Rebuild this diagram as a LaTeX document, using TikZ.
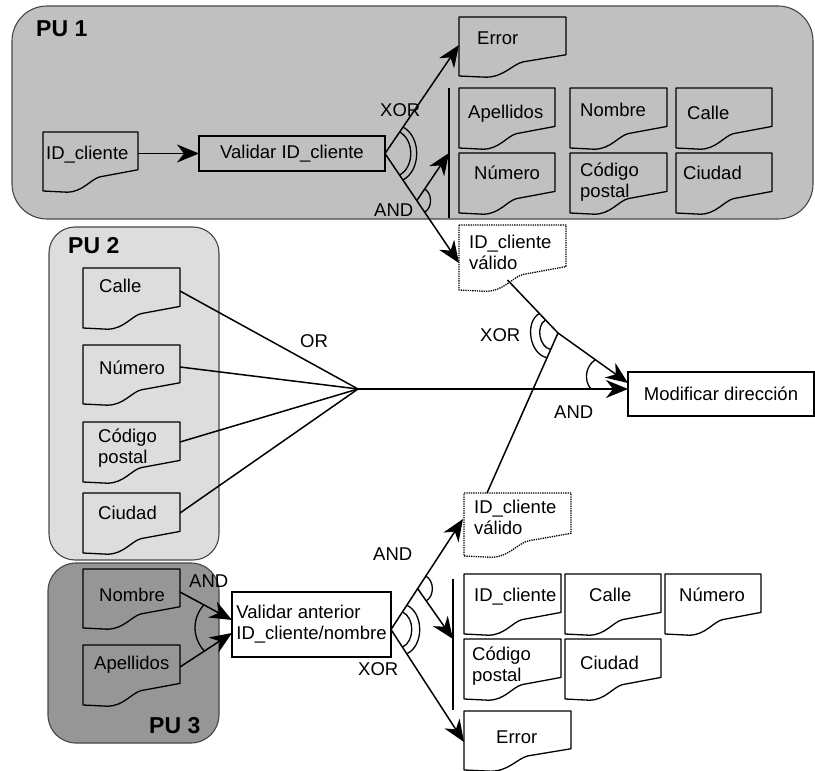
\documentclass[tikz,border=0pt]{standalone}
\usepackage{fontspec}
\setmainfont{Liberation Sans}
\usetikzlibrary{arrows.meta,calc,fit}

\definecolor{puA}{RGB}{192,192,192}
\definecolor{puB}{RGB}{221,221,221}
\definecolor{puC}{RGB}{150,150,150}
\definecolor{puborder}{RGB}{70,70,70}

\tikzset{
  pu/.style={draw=puborder, line width=1.1pt, rounded corners=#1},
  docbox/.style={inner sep=0pt, outer sep=0pt, draw=none},
  docline/.style={draw=black, line width=1.3pt, line join=round},
  procbox/.style={draw=black, line width=1.3pt, inner sep=2pt, outer sep=0pt,
                  font=\fontsize{18.5}{21}\selectfont},
  txt/.style={inner sep=0pt, anchor=base west, font=\fontsize{18.5}{21}\selectfont},
  pulabel/.style={inner sep=0pt, anchor=base west, font=\fontsize{23}{26}\selectfont\bfseries},
  link/.style={draw=black, line width=1.5pt},
  arr/.style={link, -{Stealth[length=22pt, width=18pt, inset=7pt]}},
  gate/.style={draw=black, line width=1.3pt},
}

% document symbol: an invisible frame node plus its wavy outline
\newcommand\docshape[3][]{%
  \node[docbox, fit={#3}] (#2) {};
  \draw[docline,#1] let \p1=(#2.north west), \p2=(#2.south east),
      \n1={\x2-\x1}, \n2={\y1-\y2} in
    (\p1) -- (\x2,\y1) -- (\x2,{\y2+0.36*\n2}) -- ({\x1+0.6*\n1},{\y2+0.24*\n2})
    .. controls ({\x1+0.5*\n1},{\y2+0.2*\n2}) and ({\x1+0.42*\n1},{\y2-0.02*\n2})
    .. ({\x1+0.25*\n1},{\y2-0.02*\n2}) -- (\x1,\y2) -- cycle;}

% gate arc between two branches leaving the same point
\newcommand\gatearc[5]{%
  \draw[gate] ($(#1)!#3!(#2)$) to[#5] ($(#1)!#3!(#4)$);}

\begin{document}
\begin{tikzpicture}[x=1pt,y=-1pt]
\useasboundingbox (0,0) rectangle (815,771);

% ---------- process units ----------
\draw[pu=35pt, fill=puA] (12,6) rectangle (813,219);
\draw[pu=26pt, fill=puB] (49,227) rectangle (219,560);
\draw[pu=28pt, fill=puC] (48,563) rectangle (219,743);
\node[pulabel] (pu1) at (36,36) {PU 1};
\node[pulabel] (pu2) at (68,253) {PU 2};
\node[pulabel] (pu3) at (149,733) {PU 3};

% ---------- PU 1 ----------
\docshape{id1}{(43,132) (138,191)}
\node[txt] (id1t) at (46,159) {ID\_cliente};
\node[procbox, minimum width=186, minimum height=35] (val1) at (292,153.5) {Validar ID\_cliente};

\docshape{err1}{(459,17) (566,76)}
\node[txt] (err1t) at (477,45) {Error};
\docshape{ap1}{(459,88) (555,148)}
\node[txt] (ap1t) at (468,118) {Apellidos};
\docshape{nom1}{(570,88) (667,148)}
\node[txt] (nom1t) at (580,116) {Nombre};
\docshape{cal1}{(676,88) (772,148)}
\node[txt] (cal1t) at (687,119) {Calle};
\docshape{num1}{(459,153) (555,213)}
\node[txt] (num1t) at (474,179) {Número};
\docshape{cp1}{(570,153) (667,213)}
\node[txt, align=left] (cp1t) at (580,197) {Código\\postal};
\docshape{ciu1}{(676,153) (772,213)}
\node[txt] (ciu1t) at (683,179) {Ciudad};

\docshape[densely dotted]{v1}{(459,225) (566,290)}
\node[txt, align=left] (v1t) at (469,269) {ID\_cliente\\válido};

\coordinate (bar1a) at (449,88);
\coordinate (bar1b) at (449,218);
\draw[link] (bar1a) -- (bar1b);

\draw[arr] (val1.west -| id1.east) -- (val1.west);
\coordinate (err1in) at ($(err1.north west)+(0,28)$);
\coordinate (v1in) at ($(v1.north west)+(0,38)$);
\draw[arr] (val1.east) -- (err1in);
\draw[arr] (val1.east) -- (v1in);
\coordinate (b1) at ($(val1.east)!0.43!(v1in)$);
\coordinate (bar1in) at ($(bar1a)!0.5!(bar1b)$);
\draw[arr] (b1) -- (bar1in);
\gatearc{val1.east}{err1in}{26pt}{v1in}{bend left=62}
\gatearc{val1.east}{err1in}{32pt}{v1in}{bend left=62}
\gatearc{b1}{bar1in}{14pt}{v1in}{bend left=60}
\node[txt] (xor1) at (380,116) {XOR};
\node[txt] (and1) at (374,216) {AND};

% ---------- PU 2 ----------
\docshape{cal2}{(83,268) (180,328)}
\node[txt] (cal2t) at (99,292) {Calle};
\docshape{num2}{(83,345) (180,404)}
\node[txt] (num2t) at (99,374) {Número};
\docshape{cp2}{(83,422) (180,482)}
\node[txt, align=left] (cp2t) at (98,463) {Código\\postal};
\docshape{ciu2}{(83,493) (180,553)}
\node[txt] (ciu2t) at (98,519) {Ciudad};

\coordinate (orpt) at (358,389);
\draw[link] ($(cal2.north east)+(0,23)$) -- (orpt);
\draw[link] ($(num2.north east)+(0,22)$) -- (orpt);
\draw[link] ($(cp2.north east)+(0,20)$) -- (orpt);
\draw[link] ($(ciu2.north east)+(0,20)$) -- (orpt);
\node[txt] (or2) at (300,347) {OR};

% ---------- Modificar dirección ----------
\node[procbox, minimum width=186, minimum height=44] (mod) at (721,394) {Modificar dirección};
\coordinate (orin) at (orpt -| mod.west);
\draw[arr] (orpt) -- (orin);

\coordinate (J) at (558,333);
\coordinate (v1out) at ($(v1.south)+(-5,-10)$);
\coordinate (modin) at ($(mod.north west)+(0,11)$);

% ---------- PU 3 ----------
\docshape{nom3}{(83,569) (180,628)}
\node[txt] (nom3t) at (99,601) {Nombre};
\docshape{ap3}{(83,645) (180,705)}
\node[txt] (ap3t) at (94,669) {Apellidos};
\node[procbox, minimum width=159, minimum height=65, align=left] (val3) at (311.5,624.5)
  {Validar anterior\\ID\_cliente/nombre};

\coordinate (n3out) at ($(nom3.north east)+(0,23)$);
\coordinate (a3out) at ($(ap3.north east)+(0,22)$);
\coordinate (n3in) at ($(val3.north west)+(0,28)$);
\coordinate (a3in) at ($(val3.north west)+(0,41)$);
\draw[arr] (n3out) -- (n3in);
\draw[arr] (a3out) -- (a3in);
\draw[gate] ($(n3in)!32pt!(n3out)$) to[bend right=42] ($(a3in)!33pt!(a3out)$);
\node[txt] (and3) at (189,587) {AND};

% ---------- lower outputs ----------
\docshape[densely dotted]{v2}{(464,493) (571,556)}
\node[txt, align=left] (v2t) at (474,534) {ID\_cliente\\válido};
\docshape{id3}{(464,574) (561,634)}
\node[txt] (id3t) at (474,601) {ID\_cliente};
\docshape{cal3}{(565,574) (661,634)}
\node[txt] (cal3t) at (589,601) {Calle};
\docshape{num3}{(665,574) (761,634)}
\node[txt] (num3t) at (679,601) {Número};
\docshape{cp3}{(464,639) (561,699)}
\node[txt, align=left] (cp3t) at (472,681) {Código\\postal};
\docshape{ciu3}{(565,639) (661,699)}
\node[txt] (ciu3t) at (580,669) {Ciudad};
\docshape{err3}{(464,711) (571,770)}
\node[txt] (err3t) at (496,743) {Error};

\coordinate (bar3a) at (453,579);
\coordinate (bar3b) at (453,710);
\draw[link] (bar3a) -- (bar3b);

\coordinate (f3) at ($(val3.east)+(0,5)$);
\coordinate (v2in) at ($(v2.north west)+(-1,26)$);
\coordinate (err3in) at ($(err3.north west)+(0,31)$);
\coordinate (bar3in) at ($(bar3a)+(0,60)$);
\draw[arr] (f3) -- (v2in);
\draw[arr] (f3) -- (err3in);
\coordinate (b3) at ($(f3)!0.37!(v2in)$);
\draw[arr] (b3) -- (bar3in);
\gatearc{f3}{v2in}{21pt}{err3in}{bend left=65}
\gatearc{f3}{v2in}{29pt}{err3in}{bend left=65}
\gatearc{b3}{v2in}{15pt}{bar3in}{bend left=60}
\node[txt] (and4) at (373,560) {AND};
\node[txt] (xor4) at (358,675) {XOR};

% ---------- join into Modificar dirección ----------
\coordinate (v2out) at ($(v2.north west)+(23,0)$);
\draw[link] (v1out) -- (J);
\draw[link] (v2out) -- (J);
\draw[arr] (J) -- (modin);
\gatearc{J}{v1out}{18pt}{v2out}{bend right=70}
\gatearc{J}{v1out}{27pt}{v2out}{bend right=70}
\draw[gate] ($(modin)!40pt!(J)$) to[bend right=50] ($(orin)!37pt!(orpt)$);
\node[txt] (xor5) at (480,341) {XOR};
\node[txt] (and5) at (554,418) {AND};

\end{tikzpicture}
\end{document}
